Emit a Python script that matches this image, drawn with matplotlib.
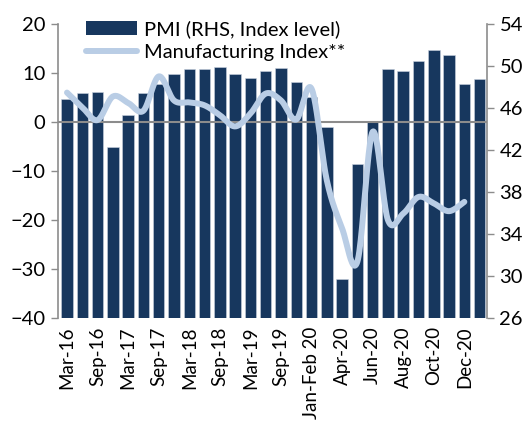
import numpy as np
import matplotlib.pyplot as plt
from matplotlib.patches import Patch
from matplotlib.lines import Line2D

plt.rcParams['font.family'] = ['Lato', 'DejaVu Sans']

# quarterly / monthly periods
periods = ["Mar-16", "Jun-16", "Sep-16", "Dec-16", "Mar-17", "Jun-17", "Sep-17",
           "Dec-17", "Mar-18", "Jun-18", "Sep-18", "Dec-18", "Mar-19", "Jun-19",
           "Sep-19", "Dec-19", "Jan-Feb 20", "Mar-20", "Apr-20", "May-20",
           "Jun-20", "Jul-20", "Aug-20", "Sep-20", "Oct-20", "Nov-20", "Dec-20",
           "Jan-21"]

# PMI, index level (right axis)
pmi = [46.9, 47.4, 47.5, 42.3, 45.3, 47.4, 48.3, 49.2, 49.7, 49.7, 49.9, 49.2,
       48.9, 49.5, 49.8, 48.5, 47.0, 44.2, 29.7, 40.7, 44.7, 49.7, 49.5, 50.5,
       51.5, 51.0, 48.3, 48.8]

# Manufacturing index (left axis), no value for the last period
manuf = [6.0, 3.0, 0.4, 5.2, 3.9, 2.3, 9.3, 4.4, 4.0, 3.4, 1.4, -0.9, 1.7, 5.8,
         4.4, 0.5, 6.8, -11.9, -21.7, -28.5, -2.0, -20.0, -18.7, -15.3, -16.6,
         -18.2, -16.3, np.nan]

left_ticks = [-40, -30, -20, -10, 0, 10, 20]
right_ticks = [26, 30, 34, 38, 42, 46, 50, 54]

NAVY = '#17375e'
LIGHT = '#b9cde5'
GREY = '#8c8c8c'
FS = 14.5


def smooth(xs, ys, n=24):
    # Excel-style smoothed line (Catmull-Rom as cubic Bezier)
    p = np.column_stack([xs, ys])
    out = []
    for i in range(len(p) - 1):
        p0 = p[max(i - 1, 0)]
        p1, p2 = p[i], p[i + 1]
        p3 = p[min(i + 2, len(p) - 1)]
        b1 = p1 + (p2 - p0) / 6
        b2 = p2 - (p3 - p1) / 6
        t = np.linspace(0, 1, n)[:, None]
        seg = ((1 - t) ** 3 * p1 + 3 * (1 - t) ** 2 * t * b1
               + 3 * (1 - t) * t ** 2 * b2 + t ** 3 * p2)
        out.append(seg if i == 0 else seg[1:])
    out = np.vstack(out)
    return out[:, 0], out[:, 1]


x = np.arange(len(periods))
fig = plt.figure(figsize=(5.3, 4.21), dpi=100)
ax = fig.add_axes([0.1094, 0.2447, 0.8094, 0.6983])
axr = ax.twinx()

axr.bar(x, pmi, width=0.75, color=NAVY, edgecolor='#c9d3e0', linewidth=0.4)
axr.set_ylim(26, 54)
axr.set_yticks(right_ticks)

ok = ~np.isnan(manuf)
sx, sy = smooth(x[ok], np.array(manuf)[ok])
ax.axhline(0, color=GREY, lw=1.5, zorder=1)
ax.plot(sx, sy, color=LIGHT, lw=4.3, solid_capstyle='round', zorder=3)
ax.set_ylim(-40, 20)
ax.set_yticks(left_ticks)
ax.set_zorder(axr.get_zorder() + 1)
ax.patch.set_visible(False)

ax.set_xlim(-0.59, 27.48)
ax.set_xticks(x[::2])
ax.set_xticklabels(periods[::2], rotation=90, va='top', ha='center')
ax.tick_params(axis='x', length=0, pad=6, labelsize=13.5)

for a in (ax, axr):
    for s in a.spines.values():
        s.set_visible(False)
    a.tick_params(axis='y', direction='out', length=5, width=1,
                  color=GREY, labelsize=FS, pad=4)
ax.spines['left'].set_visible(True)
ax.spines['left'].set_color(GREY)
ax.spines['left'].set_linewidth(1.2)
axr.spines['right'].set_visible(True)
axr.spines['right'].set_color(GREY)
axr.spines['right'].set_linewidth(1.2)

handles = [Patch(facecolor=NAVY, edgecolor='none'),
           Line2D([], [], color=LIGHT, lw=4.3, solid_capstyle='round')]
ax.legend(handles, ["PMI (RHS, Index level)", "Manufacturing Index**"],
          loc='upper left', bbox_to_anchor=(0.162, 0.952),
          bbox_transform=fig.transFigure, frameon=False, fontsize=FS,
          handlelength=2.55, handletextpad=0.35, labelspacing=0.3,
          borderpad=0, borderaxespad=0)

fig.savefig('out.png', dpi=100)
